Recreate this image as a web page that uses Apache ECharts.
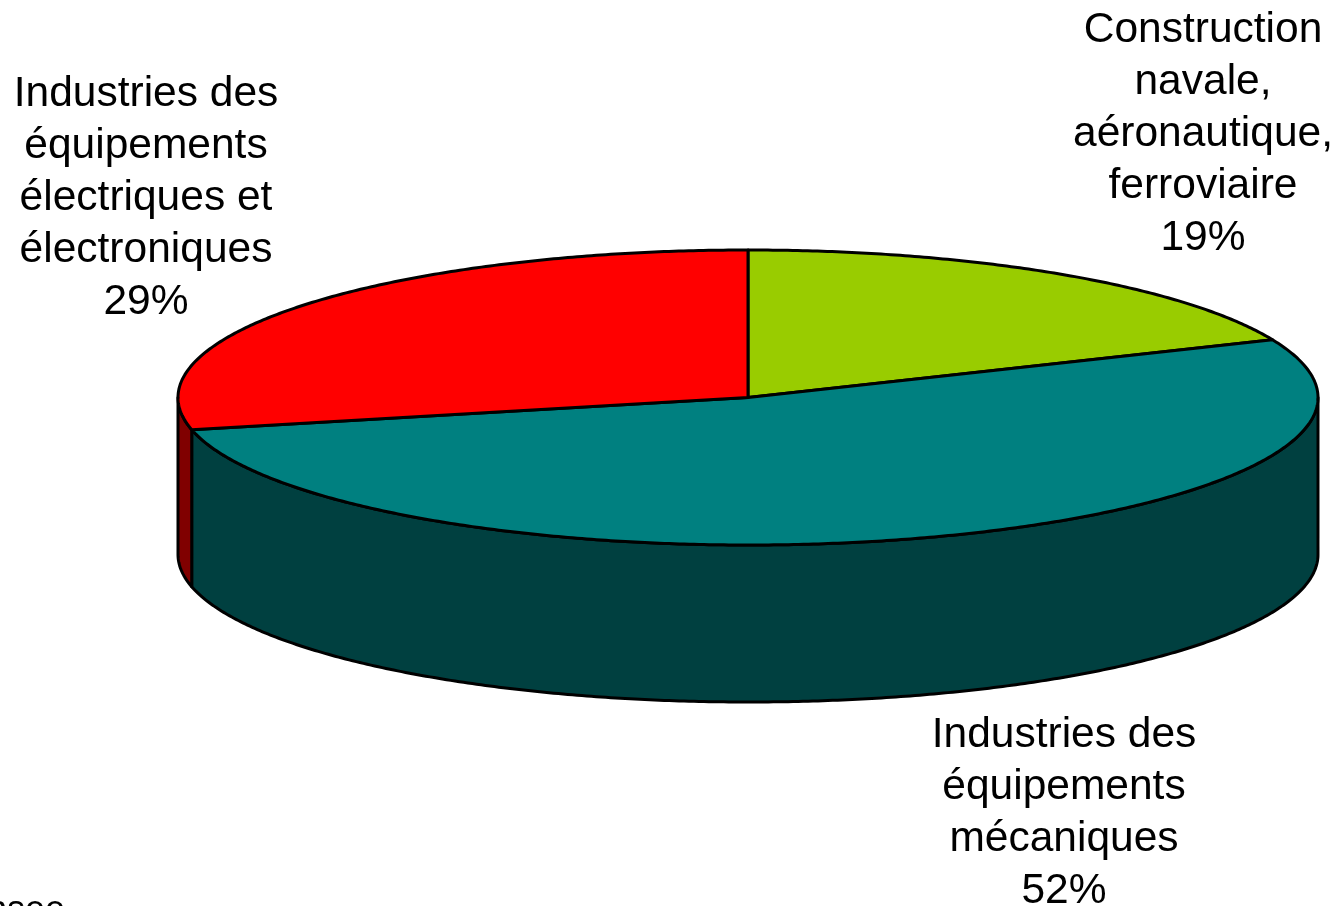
<!DOCTYPE html>
<html>
<head>
<meta charset="utf-8">
<title>Répartition</title>
<script src="https://cdn.jsdelivr.net/npm/echarts@6/dist/echarts.min.js"></script>
<style>
  html, body { margin: 0; padding: 0; background: #fff; overflow: hidden; }
  #main { width: 1339px; height: 906px; }
</style>
</head>
<body>
<div id="main"></div>
<script>
var categories = ['Construction\nnavale,\naéronautique,\nferroviaire', 'Industries des\néquipements\nmécaniques', 'Industries des\néquipements\nélectriques et\nélectroniques']
var percentLabels = ['19%', '52%', '29%']
// slice sizes as measured on the drawn disc, the 3d view skews them a bit from the printed %
var shares = [18.6, 52.9, 28.5]
var topColors = ['#99cc00', '#008080', '#ff0000']
var sideColors = ['#4d6600', '#004040', '#800000']

// ellipse of the tilted disc, in px
var cx = 748, cy = 397.5, rx = 570, ry = 147.5, depth = 157
var labelPos = [[1203, 4], [1064, 709], [146, 68]]
var fontFamily = '"Liberation Sans", Arial, sans-serif'

var myChart = echarts.init(document.getElementById('main'), null, { renderer: 'canvas' })

function rimPoint(deg, dy) {
  var a = deg * Math.PI / 180
  return [cx + rx * Math.sin(a), cy - ry * Math.cos(a) + (dy || 0)]
}

function arc(from, to, dy) {
  var pts = []
  var n = Math.max(2, Math.ceil((to - from) * 2))
  for (var i = 0; i <= n; i++) {
    pts.push(rimPoint(from + (to - from) * i / n, dy))
  }
  return pts
}

function renderSlice(params, api) {
  var i = params.dataIndex
  var total = shares.reduce(function (a, b) { return a + b }, 0)
  var before = 0
  for (var k = 0; k < i; k++) before += shares[k]
  var start = before / total * 360
  var end = start + api.value(0) / total * 360
  var lineStyle = { stroke: '#000', lineWidth: 3, lineJoin: 'round' }
  var children = []

  // only the front half of the rim shows a wall
  var from = Math.max(start, 90), to = Math.min(end, 270)
  if (to > from) {
    var wall = arc(from, to, 0).concat(arc(from, to, depth).reverse())
    children.push({
      type: 'polygon',
      shape: { points: wall },
      style: Object.assign({ fill: sideColors[i] }, lineStyle)
    })
  }
  children.push({
    type: 'polygon',
    shape: { points: [[cx, cy]].concat(arc(start, end, 0)) },
    style: Object.assign({ fill: topColors[i] }, lineStyle)
  })
  return { type: 'group', children: children }
}

var labels = categories.map(function (name, i) {
  return {
    type: 'text',
    x: labelPos[i][0],
    y: labelPos[i][1],
    style: {
      text: name + '\n' + percentLabels[i],
      fill: '#000',
      font: '42.5px ' + fontFamily,
      lineHeight: 52,
      align: 'center',
      verticalAlign: 'top'
    }
  }
})
labels.push({
  type: 'text',
  x: 65,
  y: 893,
  style: {
    text: 'Insee',
    fill: '#000',
    font: '36px ' + fontFamily,
    align: 'right',
    verticalAlign: 'top'
  }
})

var option = {
  animation: false,
  backgroundColor: '#fff',
  graphic: labels,
  series: [
    {
      type: 'custom',
      coordinateSystem: 'none',
      silent: true,
      renderItem: renderSlice,
      data: shares.map(function (v) { return [v] })
    }
  ]
}
myChart.setOption(option, true)
</script>
</body>
</html>
